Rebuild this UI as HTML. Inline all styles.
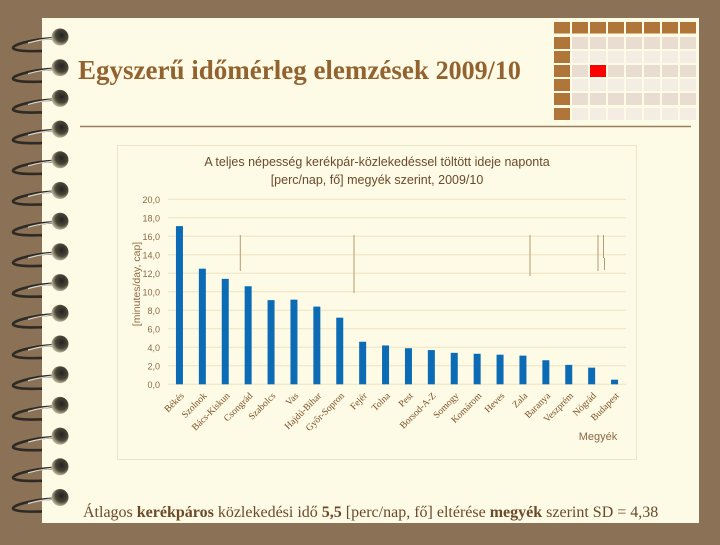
<!DOCTYPE html>
<html><head><meta charset="utf-8">
<style>
body{margin:0;width:720px;height:540px;overflow:hidden;background:#8b7156;font-family:"Liberation Sans",sans-serif;}
#root{position:relative;width:720px;height:540px;}
</style></head>
<body>
<div id="root">
<svg width="720" height="540" viewBox="0 0 720 540" xmlns="http://www.w3.org/2000/svg">
  <defs>
    <radialGradient id="ball" cx="0.6" cy="0.4" r="0.6">
      <stop offset="0" stop-color="#222"/>
      <stop offset="0.6" stop-color="#4a4636"/>
      <stop offset="1" stop-color="#b8b49a"/>
    </radialGradient>
  </defs>
  <rect x="42" y="18" width="657" height="505" fill="#fdfae6"/>
  <g id="rings"></g>
  <g id="grid-deco"></g>
  <text x="78" y="79" font-family="Liberation Serif, serif" font-weight="bold" font-size="27" fill="#93632f">Egyszerű időmérleg elemzések <tspan font-weight="bold" font-size="26">2009/10</tspan></text>
  <line x1="80" y1="126.5" x2="691" y2="126.5" stroke="#9a7f5e" stroke-width="1.5"/>
  <rect x="117.5" y="145.5" width="519" height="314" fill="#fdfae6" stroke="#efe4c8"/>
  <text x="377" y="166" text-anchor="middle" font-size="12.5" fill="#6b4a2a">A teljes népesség kerékpár-közlekedéssel töltött ideje naponta</text>
  <text x="377" y="184" text-anchor="middle" font-size="12.5" fill="#6b4a2a">[perc/nap, fő] megyék szerint, 2009/10</text>
  <text transform="translate(140,284) rotate(-90)" text-anchor="middle" font-size="10.5" fill="#8b6a45">[minutes/day, cap]</text>
  <text x="598" y="440" text-anchor="middle" font-size="11" fill="#8b6a45">Megyék</text>
  <g id="plot"></g>
  <text x="83" y="517" font-family="Liberation Serif, serif" font-size="16" fill="#6b4a2a">Átlagos <tspan font-weight="bold">kerékpáros</tspan> közlekedési idő <tspan font-weight="bold">5,5</tspan> [perc/nap, fő] eltérése <tspan font-weight="bold">megyék</tspan> szerint SD = 4,38</text>
</svg>
</div>
<script>
const categories = ["Békés","Szolnok","Bács-Kiskun","Csongrád","Szabolcs","Vas","Hajdú-Bihar","Győr-Sopron","Fejér","Tolna","Pest","Borsod-A-Z","Somogy","Komárom","Heves","Zala","Baranya","Veszprém","Nógrád","Budapest"];
const values = [17.1,12.5,11.4,10.6,9.1,9.15,8.4,7.2,4.6,4.2,3.9,3.7,3.4,3.3,3.2,3.1,2.6,2.1,1.8,0.5];
const yTicks = [0,2,4,6,8,10,12,14,16,18,20];
const tickLabels = ["0,0","2,0","4,0","6,0","8,0","10,0","12,0","14,0","16,0","18,0","20,0"];

const NS = "http://www.w3.org/2000/svg";
function mk(tag, attrs, parent){const e=document.createElementNS(NS,tag);for(const k in attrs)e.setAttribute(k,attrs[k]);parent.appendChild(e);return e;}
const X0=168, X1=626, Y0=384.3, YTOP=199.3, YMAX=20;
const yScale = v => Y0 - (v/YMAX)*(Y0-YTOP);
const band = (X1-X0)/categories.length;
const xCenter = i => X0 + band*(i+0.5);
const plot = document.getElementById('plot');

yTicks.forEach((t,i)=>{
  const y=yScale(t);
  const l=mk('line',{x1:X0,x2:X1,y1:y,y2:y,stroke:'#efe2c0','stroke-width':1},plot);
  
  
  const tx=mk('text',{x:160,y:y+3.5,'text-anchor':'end','font-size':9,fill:'#8b6a45'},plot);
  tx.textContent=tickLabels[i];
  
  
});

[[240.3,235,271],[354,235,293],[530,235,276],[598,235,271],[603.5,235,258],[604.5,258,270]].forEach(d=>{
  const l=mk('line',{x1:d[0],x2:d[0],y1:d[1],y2:d[2],stroke:'#b89a72','stroke-width':1},plot);
  
  
});

values.forEach((v,i)=>{
  const cx=xCenter(i), y=yScale(v);
  const r=mk('rect',{x:cx-3.5,y:y,width:7,height:Y0-y,fill:'#0b6bb5'},plot);
  
  
  const t=mk('text',{x:0,y:0,'text-anchor':'end','font-family':'Liberation Serif, serif','font-size':9.5,fill:'#7a4e22',transform:`translate(${cx+5},${Y0+12}) rotate(-45)`},plot);
  t.textContent=categories[i];
  
  
});

const rings=document.getElementById('rings');
for(let k=0;k<16;k++){
  const y=40+30.7*k;
  const p=mk('path',{d:`M56 ${y-2} C 30 ${y-1}, 8 ${y+6}, 14 ${y+9} C 20 ${y+12}, 36 ${y+11}, 42 ${y+11}`,fill:'none',stroke:'#2e2a24','stroke-width':2.6},rings);
  
  
  const p2=mk('path',{d:`M56 ${y-2} C 45 ${y-1}, 35 ${y+1}, 28 ${y+3}`,fill:'none',stroke:'#d8d6cc','stroke-width':1.2},rings);
  
  
  const c=mk('circle',{cx:60,cy:y-3,r:8.5,fill:'url(#ball)'},rings);
  
  
}

const gd=document.getElementById('grid-deco');
const rowsY=[22,37,51,65,79,93,108];
for(let r=0;r<rowsY.length;r++){
  for(let c=0;c<8;c++){
    let fill;
    if(r===0||c===0) fill='#b07538';
    else if(r===3&&c===2) fill='#ff0000';
    else fill=(r%2===1)?'#e9ddd2':'#f3ede4';
    const s=mk('rect',{x:554+18*c,y:rowsY[r],width:16,height:r===0?11.5:12},gd);
    s.setAttribute('fill',fill);
    
    
  }
}
</script>
</body></html>
